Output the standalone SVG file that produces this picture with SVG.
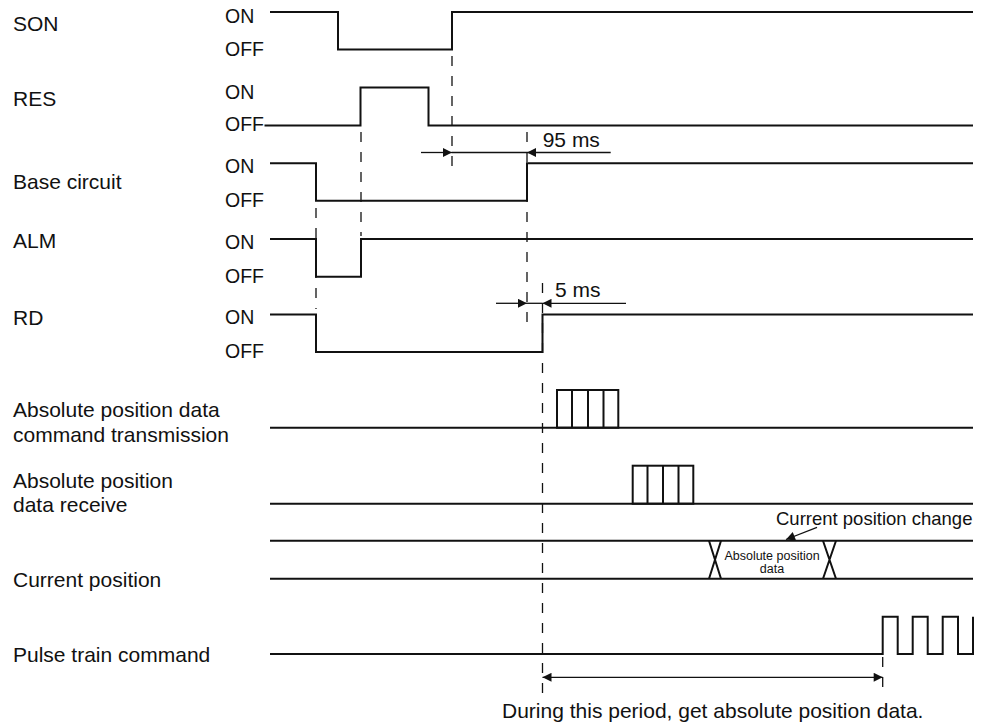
<svg xmlns="http://www.w3.org/2000/svg" width="987" height="727" viewBox="0 0 987 727">
<style>
  text { font-family: "Liberation Sans", Arial, sans-serif; fill: #111; }
  .lbl { font-size: 21px; }
  .st { font-size: 19.5px; }
  .small { font-size: 12.5px; }
  .wave { fill: none; stroke: #111; stroke-width: 2; stroke-linejoin: miter; }
  .dash { fill: none; stroke: #111; stroke-width: 1.3; stroke-dasharray: 10 10; }
  .dim { fill: none; stroke: #111; stroke-width: 1.3; }
</style>
<defs>
  <marker id="ah" viewBox="0 0 10 10" refX="10" refY="5" markerUnits="userSpaceOnUse" markerWidth="10" markerHeight="9" orient="auto">
    <path d="M0,0 L10,5 L0,10 z" fill="#111"/>
  </marker>
</defs>
<rect width="987" height="727" fill="#fff"/>

<g id="son">
  <text class="lbl" x="13" y="31">SON</text>
  <text class="st" x="225" y="22.7">ON</text>
  <text class="st" x="225" y="56">OFF</text>
  <polyline class="wave" points="270,12 338,12 338,49.5 452,49.5 452,12 973,12"/>
</g>
<g id="res">
  <text class="lbl" x="13" y="106">RES</text>
  <text class="st" x="225" y="98.7">ON</text>
  <text class="st" x="225" y="131.3">OFF</text>
  <polyline class="wave" points="264.5,125.5 360.5,125.5 360.5,87.5 428.5,87.5 428.5,125.5 973,125.5"/>
</g>
<g id="base-circuit">
  <text class="lbl" x="13" y="189">Base circuit</text>
  <text class="st" x="225" y="173.3">ON</text>
  <text class="st" x="225" y="207.3">OFF</text>
  <polyline class="wave" points="270,163.3 316,163.3 316,200.7 527,200.7 527,163.3 973,163.3"/>
</g>
<g id="alm">
  <text class="lbl" x="13" y="248.3">ALM</text>
  <text class="st" x="225" y="249.3">ON</text>
  <text class="st" x="225" y="282.7">OFF</text>
  <polyline class="wave" points="270,239 316,239 316,276.7 361,276.7 361,239 973,239"/>
</g>
<g id="rd">
  <text class="lbl" x="13" y="325">RD</text>
  <text class="st" x="225" y="324">ON</text>
  <text class="st" x="225" y="358.3">OFF</text>
  <polyline class="wave" points="270,314.5 316,314.5 316,352 542.5,352 542.5,314.5 973,314.5"/>
</g>
<g id="abs-cmd-transmission">
  <text class="lbl" x="13" y="416.7">Absolute position data</text>
  <text class="lbl" x="13" y="442.3">command transmission</text>
  <line class="wave" x1="270" y1="427.7" x2="973" y2="427.7"/>
  <rect class="wave" x="557" y="390" width="61.3" height="37.7"/>
  <path class="wave" d="M572,390 V427.7 M588,390 V427.7 M603.5,390 V427.7"/>
</g>
<g id="abs-data-receive">
  <text class="lbl" x="13" y="488.3">Absolute position</text>
  <text class="lbl" x="13" y="511.7">data receive</text>
  <line class="wave" x1="270" y1="503.7" x2="973" y2="503.7"/>
  <rect class="wave" x="632.7" y="465.7" width="60.6" height="38"/>
  <path class="wave" d="M647.5,465.7 V503.7 M663,465.7 V503.7 M678.5,465.7 V503.7"/>
</g>
<g id="current-position">
  <text class="lbl" x="13" y="587">Current position</text>
  <line class="wave" x1="270" y1="540.7" x2="973" y2="540.7"/>
  <line class="wave" x1="270" y1="578.7" x2="973" y2="578.7"/>
  <path class="wave" d="M709,540.7 L721,578.7 M721,540.7 L709,578.7 M823,540.7 L836,578.7 M836,540.7 L823,578.7"/>
  <text class="small" x="772" y="560" text-anchor="middle">Absolute position</text>
  <text class="small" x="772" y="572.7" text-anchor="middle">data</text>
  <text x="776" y="525" style="font-size:18.5px">Current position change</text>
  <line class="dim" x1="817" y1="527.3" x2="786" y2="539.5" marker-end="url(#ah)"/>
</g>
<g id="pulse-train">
  <text class="lbl" x="13" y="661.7">Pulse train command</text>
  <polyline class="wave" points="270,654 882.7,654 882.7,616.7 897.7,616.7 897.7,654 912.7,654 912.7,616.7 927.7,616.7 927.7,654 942.7,654 942.7,616.7 958,616.7 958,654 973,654 973,616.7"/>
</g>

<g id="connectors">
  <line class="dash" x1="452" y1="56" x2="452" y2="173"/>
  <line class="dash" x1="361" y1="132" x2="361" y2="236"/>
  <line class="dash" x1="316" y1="208" x2="316" y2="309"/>
  <line class="dash" x1="527" y1="132" x2="527" y2="322"/>
  <line class="dash" x1="542.5" y1="283" x2="542.5" y2="696"/>
  <line class="dash" x1="882.7" y1="657" x2="882.7" y2="696"/>

  <line class="dim" x1="421" y1="152.5" x2="452" y2="152.5" marker-end="url(#ah)"/>
  <line class="dim" x1="452" y1="152.5" x2="527" y2="152.5"/>
  <line class="dim" x1="610.7" y1="152.5" x2="527" y2="152.5" marker-end="url(#ah)"/>
  <text class="lbl" x="542.7" y="146.7">95 ms</text>

  <line class="dim" x1="496" y1="303.3" x2="527" y2="303.3" marker-end="url(#ah)"/>
  <line class="dim" x1="527" y1="303.3" x2="542.5" y2="303.3"/>
  <line class="dim" x1="626" y1="303.3" x2="542.5" y2="303.3" marker-end="url(#ah)"/>
  <text class="lbl" x="555" y="297.3">5 ms</text>

  <line class="dim" x1="712" y1="677.3" x2="542.5" y2="677.3" marker-end="url(#ah)"/>
  <line class="dim" x1="712" y1="677.3" x2="882.7" y2="677.3" marker-end="url(#ah)"/>
  <text class="lbl" x="502" y="718">During this period, get absolute position data.</text>
</g>
</svg>
